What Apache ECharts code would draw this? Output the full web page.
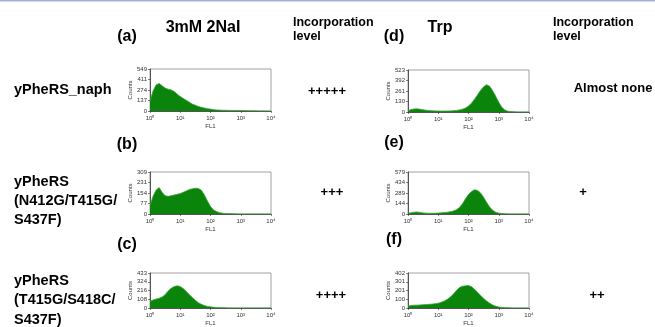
<!DOCTYPE html>
<html>
<head>
<meta charset="utf-8">
<script src="https://cdn.jsdelivr.net/npm/echarts@6/dist/echarts.min.js"></script>
<style>
  html, body { margin: 0; padding: 0; background: #fff; }
  #main { width: 655px; height: 327px; }
</style>
</head>
<body>
<div id="main"></div>
<script>
// FL1 channel (bin centres, 10 bins per decade)
var fl1Bins = [1, 1.26, 1.58, 2, 2.51, 3.16, 3.98, 5.01, 6.31, 7.94,
  10, 12.6, 15.8, 20, 25.1, 31.6, 39.8, 50.1, 63.1, 79.4,
  100, 126, 158, 200, 251, 316, 398, 501, 631, 794,
  1000, 1260, 1580, 2000, 2510, 3160, 3980, 5010, 6310, 7940, 10000];

// counts
var countsA = [130, 260, 340, 360, 330, 300, 285, 275, 255, 220,
  190, 165, 140, 115, 90, 75, 60, 48, 38, 30,
  25, 18, 14, 12, 10, 9, 8, 8, 7, 7,
  6, 5, 4, 3, 2, 2, 1, 1, 0, 0, 0];
var countsB = [60, 130, 175, 195, 160, 135, 130, 135, 140, 145,
  150, 160, 170, 180, 185, 190, 188, 175, 140, 95,
  55, 30, 18, 10, 6, 4, 3, 2, 1, 0,
  0, 0, 0, 0, 0, 0, 0, 0, 0, 0, 0];
var countsC = [80, 100, 110, 120, 135, 165, 210, 245, 265, 275,
  265, 240, 205, 165, 130, 95, 65, 45, 30, 20,
  14, 9, 6, 4, 3, 2, 1, 1, 0, 0,
  0, 0, 0, 0, 0, 0, 0, 0, 0, 0, 0];
var countsD = [15, 30, 38, 40, 35, 28, 22, 18, 15, 14,
  13, 12, 12, 13, 14, 16, 20, 26, 35, 50,
  75, 110, 160, 215, 270, 315, 340, 320, 265, 195,
  120, 60, 25, 10, 5, 3, 1, 0, 0, 0, 0];
var countsE = [10, 18, 25, 28, 22, 15, 12, 10, 10, 11,
  13, 16, 20, 25, 32, 42, 60, 90, 140, 210,
  270, 310, 335, 325, 290, 230, 160, 95, 50, 25,
  12, 6, 3, 1, 0, 0, 0, 0, 0, 0, 0];
var countsF = [20, 30, 32, 33, 35, 38, 40, 42, 45, 50,
  55, 65, 80, 100, 125, 160, 200, 235, 250, 255,
  258, 245, 215, 180, 145, 110, 80, 55, 35, 20,
  12, 7, 4, 2, 1, 0, 0, 0, 0, 0, 0];

// y-axis tick labels per panel
var yTicksA = [0, 137, 274, 411, 549];
var yTicksB = [0, 77, 154, 231, 309];
var yTicksC = [0, 108, 216, 324, 433];
var yTicksD = [0, 130, 261, 392, 523];
var yTicksE = [0, 144, 289, 434, 579];
var yTicksF = [0, 100, 201, 301, 402];
var xTickLabels = ['10\u2070', '10\u00b9', '10\u00b2', '10\u00b3', '10\u2074'];

var panels = [
  {counts: countsA, ticks: yTicksA, left: 150, top: 69},
  {counts: countsB, ticks: yTicksB, left: 150, top: 172},
  {counts: countsC, ticks: yTicksC, left: 150, top: 273},
  {counts: countsD, ticks: yTicksD, left: 408, top: 70},
  {counts: countsE, ticks: yTicksE, left: 408, top: 172},
  {counts: countsF, ticks: yTicksF, left: 408, top: 273}
];

var font = '"Liberation Sans", Arial, sans-serif';
var green = '#0b840b';

var grids = [], xAxes = [], yAxes = [], series = [];
panels.forEach(function (p, i) {
  grids.push({
    left: p.left, top: p.top, width: 121, height: 42,
    show: true, borderColor: '#8a8a8a', borderWidth: 0.8, backgroundColor: '#fff'
  });
  xAxes.push({
    type: 'log', logBase: 10, gridIndex: i, min: 1, max: 10000,
    name: 'FL1', nameLocation: 'middle', nameGap: 12,
    nameTextStyle: {fontSize: 6, fontFamily: font, color: '#333'},
    axisLine: {lineStyle: {color: '#333', width: 0.8}},
    axisTick: {length: 2, lineStyle: {color: '#333', width: 0.6}},
    splitLine: {show: false},
    axisLabel: {
      fontSize: 6, fontFamily: font, color: '#333', margin: 4,
      formatter: function (v) { return xTickLabels[Math.round(Math.log10(v))]; }
    }
  });
  var tk = p.ticks;
  yAxes.push({
    type: 'value', gridIndex: i, min: 0, max: tk[4], interval: tk[4] / 4,
    name: 'Counts', nameLocation: 'middle', nameGap: 15,
    nameTextStyle: {fontSize: 6, fontFamily: font, color: '#333'},
    axisLine: {show: true, lineStyle: {color: '#333', width: 0.8}},
    axisTick: {show: true, length: 2, lineStyle: {color: '#333', width: 0.6}},
    splitLine: {show: false},
    axisLabel: {
      fontSize: 6, fontFamily: font, color: '#333', margin: 3,
      formatter: function (v, idx) { return tk[idx]; }
    }
  });
  series.push({
    type: 'line', xAxisIndex: i, yAxisIndex: i,
    data: fl1Bins.map(function (x, k) { return [x, p.counts[k]]; }),
    symbol: 'none', smooth: false,
    lineStyle: {color: '#3aa33a', width: 0.8},
    areaStyle: {color: green, opacity: 1}
  });
});

function txt(x, y, s, size, weight, align) {
  return {
    type: 'text', x: x, y: y,
    style: {
      text: s, fontSize: size, fontWeight: weight || 'bold', fontFamily: font,
      fill: '#000', align: align || 'center', verticalAlign: 'middle'
    }
  };
}

var graphics = [
  {type: 'rect', shape: {x: 0, y: 0, width: 655, height: 1.5}, style: {fill: '#a3b2da'}},
  txt(127, 37, '(a)', 16), txt(203, 28, '3mM 2NaI', 16),
  txt(293, 23, 'Incorporation', 12.5, 'bold', 'left'), txt(293, 37, 'level', 12.5, 'bold', 'left'),
  txt(394, 37, '(d)', 16), txt(440, 28, 'Trp', 16),
  txt(553, 23, 'Incorporation', 12.5, 'bold', 'left'), txt(553, 37, 'level', 12.5, 'bold', 'left'),
  txt(127, 145, '(b)', 16), txt(394, 143, '(e)', 16),
  txt(127, 245, '(c)', 16), txt(394, 240, '(f)', 16),
  txt(14, 90, 'yPheRS_naph', 14.5, 'bold', 'left'),
  txt(14, 182, 'yPheRS', 14.5, 'bold', 'left'),
  txt(14, 201, '(N412G/T415G/', 14.5, 'bold', 'left'),
  txt(14, 220, 'S437F)', 14.5, 'bold', 'left'),
  txt(14, 281, 'yPheRS', 14.5, 'bold', 'left'),
  txt(14, 300, '(T415G/S418C/', 14.5, 'bold', 'left'),
  txt(14, 320, 'S437F)', 14.5, 'bold', 'left'),
  txt(327, 91, '+++++', 13), txt(332, 192, '+++', 13), txt(331, 295, '++++', 13),
  txt(613, 88, 'Almost none', 13), txt(583, 192, '+', 13), txt(597, 295, '++', 13)
];

var chart = echarts.init(document.getElementById('main'));
chart.setOption({
  backgroundColor: '#fff',
  animation: false,
  grid: grids,
  xAxis: xAxes,
  yAxis: yAxes,
  series: series,
  graphic: graphics
});
</script>
</body>
</html>
